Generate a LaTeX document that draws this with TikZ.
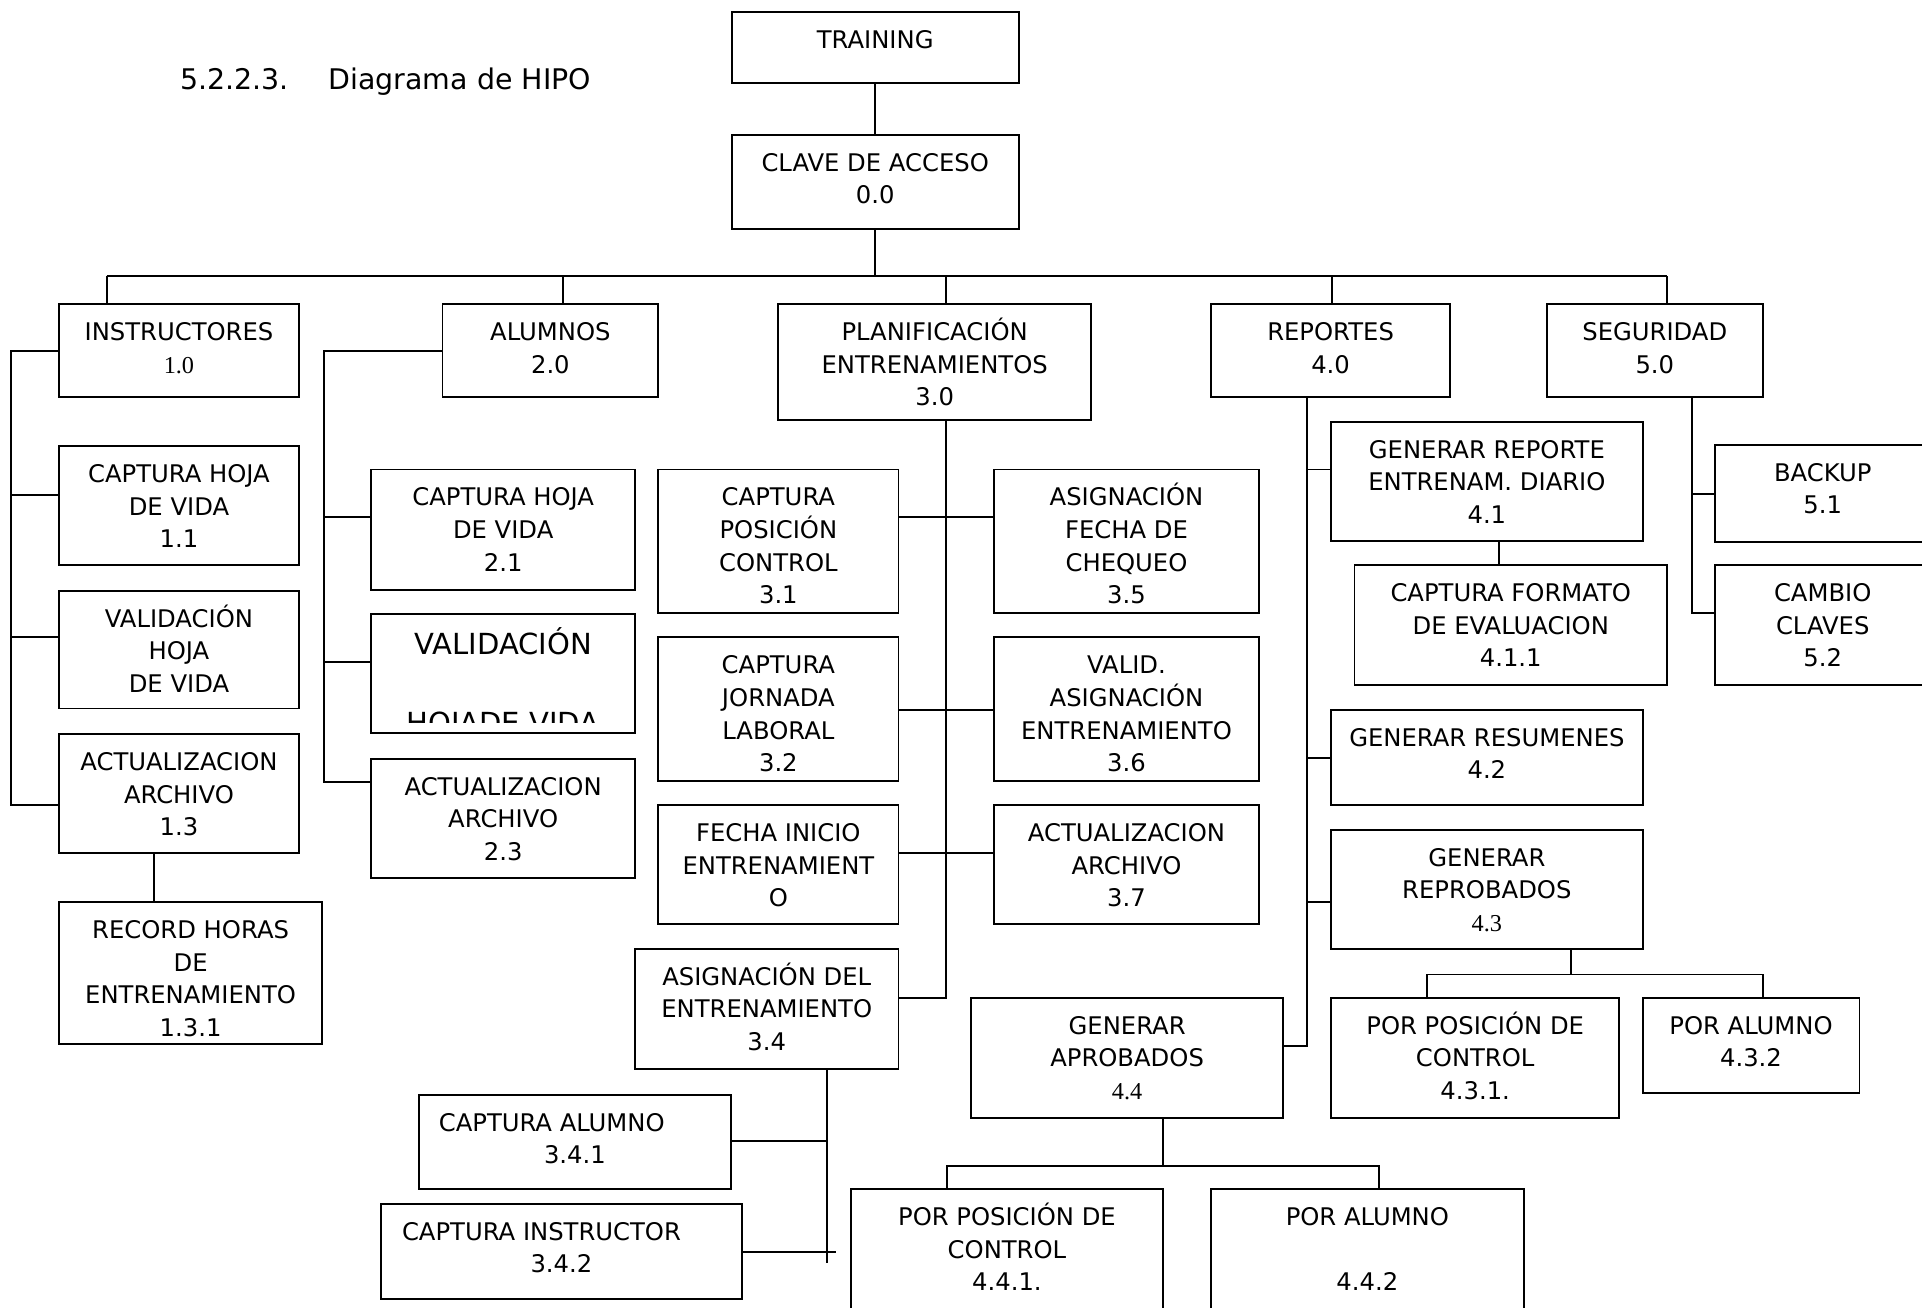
\documentclass[tikz,border=0pt]{standalone}
\usepackage{fontspec}
\setmainfont{DejaVu Sans}
\newfontfamily\numserif{Liberation Serif}

\newcommand\boxfont{\fontsize{9.9pt}{13.3pt}\selectfont}

\tikzset{
  hipo/.style={draw, rectangle, inner sep=0pt, outer sep=0pt},
  txt/.style={inner sep=0pt, outer sep=0pt, align=center},
  boxtext/.style={txt, font=\boxfont}
}

% \hipobox{name}{x1}{y1}{x2}{y2}{text}: a box given by its corners,
% its text hanging from the top edge (the rule fixes the first line's height)
\newcommand\hipobox[6]{%
  \node[hipo, minimum width={(#4-#2)*0.5pt}, minimum height={(#5-#3)*0.5pt}]
    (#1) at ({(#2+#4)/2},{(#3+#5)/2}) {};
  \node[boxtext, anchor=north] (#1-t) at ({(#2+#4)/2},{#3+9.7}) {\rule{0pt}{10pt}#6};}

\begin{document}
\begin{tikzpicture}[x=0.5pt, y=-0.5pt, line width=0.8pt]
\useasboundingbox (0,0) rectangle (1568,1067);
\clip (0,0) rectangle (1568,1067);

% heading
\node[txt, anchor=base west, font=\fontsize{11.6pt}{14pt}\selectfont] (title)
  at (147,73.4) {\makebox[60.5pt][l]{5.2.2.3.}Diagrama de HIPO};

% top of the hierarchy
\hipobox{training}{597}{10}{831}{68}{TRAINING}
\hipobox{clave}{597}{110}{831}{187}{CLAVE DE ACCESO\\0.0}

% first level
\hipobox{ins}{48}{248}{244}{324}{INSTRUCTORES\\{\numserif 1.0}}
\hipobox{alu}{361}{248}{537}{324}{ALUMNOS\\2.0}
\hipobox{pla}{635}{248}{890}{343}{PLANIFICACIÓN\\ENTRENAMIENTOS\\3.0}
\hipobox{rep}{988}{248}{1183}{324}{REPORTES\\4.0}
\hipobox{seg}{1262}{248}{1438}{324}{SEGURIDAD\\5.0}

% instructores
\hipobox{i11}{48}{364}{244}{461}{CAPTURA HOJA\\DE VIDA\\1.1}
\hipobox{ival}{48}{482}{244}{578}{VALIDACIÓN\\HOJA\\DE VIDA}
\hipobox{i13}{48}{599}{244}{696}{ACTUALIZACION\\ARCHIVO\\1.3}
\hipobox{i131}{48}{736}{263}{852}{RECORD HORAS\\DE\\ENTRENAMIENTO\\1.3.1}

% alumnos
\hipobox{a21}{303}{383}{518}{481}{CAPTURA HOJA\\DE VIDA\\2.1}
\node[hipo, minimum width=107.5pt, minimum height=48.5pt] (aval) at (410.5,549.5) {};
\begin{scope}
  \clip (303,501) rectangle (518,589.6);
  \node[txt, anchor=base, font=\fontsize{11.85pt}{14pt}\selectfont] (avalA) at (410.5,534) {VALIDACIÓN};
  \node[txt, anchor=base, font=\fontsize{11.85pt}{14pt}\selectfont] (avalB) at (410.5,598) {HOJADE VIDA};
\end{scope}
\hipobox{a23}{303}{619}{518}{716}{ACTUALIZACION\\ARCHIVO\\2.3}

% planificacion
\hipobox{p31}{537}{383}{733}{500}{CAPTURA\\POSICIÓN\\CONTROL\\3.1}
\hipobox{p32}{537}{520}{733}{637}{CAPTURA\\JORNADA\\LABORAL\\3.2}
\hipobox{pfi}{537}{657}{733}{754}{FECHA INICIO\\ENTRENAMIENT\\O}
\hipobox{p34}{518}{774}{733}{872}{ASIGNACIÓN DEL\\ENTRENAMIENTO\\3.4}
\hipobox{p35}{811}{383}{1027}{500}{ASIGNACIÓN\\FECHA DE\\CHEQUEO\\3.5}
\hipobox{p36}{811}{520}{1027}{637}{VALID.\\ASIGNACIÓN\\ENTRENAMIENTO\\3.6}
\hipobox{p37}{811}{657}{1027}{754}{ACTUALIZACION\\ARCHIVO\\3.7}
\hipobox{p341}{342}{893}{596}{970}{\makebox[111pt][l]{CAPTURA ALUMNO}\\3.4.1}
\hipobox{p342}{311}{982}{605}{1060}{\makebox[130pt][l]{CAPTURA INSTRUCTOR}\\3.4.2}

% reportes
\hipobox{r41}{1086}{344}{1340}{441}{GENERAR REPORTE\\ENTRENAM. DIARIO\\4.1}
\hipobox{r411}{1105}{461}{1360}{559}{CAPTURA FORMATO\\DE EVALUACION\\4.1.1}
\hipobox{r42}{1086}{579}{1340}{657}{GENERAR RESUMENES\\4.2}
\hipobox{r43}{1086}{677}{1340}{774}{GENERAR\\REPROBADOS\\{\numserif 4.3}}
\hipobox{r431}{1086}{814}{1321}{912}{POR POSICIÓN DE\\CONTROL\\4.3.1.}
\hipobox{r432}{1340}{814}{1517}{892}{POR ALUMNO\\4.3.2}
\hipobox{r44}{792}{814}{1047}{912}{GENERAR\\APROBADOS\\{\numserif 4.4}}
\hipobox{r441}{694}{970}{949}{1070}{POR POSICIÓN DE\\CONTROL\\4.4.1.}
\hipobox{r442}{988}{970}{1243}{1070}{POR ALUMNO\\ \\4.4.2}

% seguridad
\hipobox{s51}{1399}{363}{1575}{442}{BACKUP\\5.1}
\hipobox{s52}{1399}{461}{1575}{559}{CAMBIO\\CLAVES\\5.2}

% ---- connectors ----
\draw (training.south) -- (clave.north);
\coordinate (busL) at (87,225.5);
\coordinate (busR) at (1360,225.5);
\coordinate (dAlu) at (459,225.5);
\coordinate (dPla) at (772,225.5);
\coordinate (dRep) at (1087,225.5);
\draw (clave.south) -- (clave.south |- busL);
\draw (busL) -- (busR);
\draw (busL) -- (busL |- ins.north);
\draw (dAlu) -- (dAlu |- alu.north);
\draw (dPla) -- (dPla |- pla.north);
\draw (dRep) -- (dRep |- rep.north);
\draw (busR) -- (busR |- seg.north);

% instructores spine
\coordinate (sIns) at (9,286);
\draw (ins.west) -- (sIns) -- (sIns |- 0,657) -- (i13.west |- 0,657);
\draw (sIns |- 0,404) -- (i11.west |- 0,404);
\draw (sIns |- 0,520) -- (ival.west |- 0,520);
\coordinate (c13) at (126,716);
\draw (i13.south -| c13) -- (i131.north -| c13);

% alumnos spine
\coordinate (sAlu) at (264,286);
\draw (alu.west) -- (sAlu) -- (sAlu |- 0,638) -- (a23.west |- 0,638);
\draw (sAlu |- 0,422) -- (a21.west |- 0,422);
\draw (sAlu |- 0,540) -- (aval.west |- 0,540);

% planificacion spine
\coordinate (sPla) at (772,814);
\draw (pla.south -| sPla) -- (sPla) -- (p34.east |- sPla);
\draw (p31.east |- 0,422) -- (p35.west |- 0,422);
\draw (p32.east |- 0,579) -- (p36.west |- 0,579);
\draw (pfi.east |- 0,696) -- (p37.west |- 0,696);

% asignacion del entrenamiento
\coordinate (s34) at (675,1030);
\coordinate (t342) at (682,1021);
\draw (p34.south -| s34) -- (s34);
\draw (p341.east |- 0,931) -- (s34 |- 0,931);
\draw (p342.east |- t342) -- (t342);

% reportes spine
\coordinate (sRep) at (1066,853);
\draw (rep.south -| sRep) -- (sRep) -- (r44.east |- sRep);
\draw (sRep |- 0,383) -- (r41.west |- 0,383);
\draw (sRep |- 0,618) -- (r42.west |- 0,618);
\draw (sRep |- 0,736) -- (r43.west |- 0,736);
\coordinate (c41) at (1223,450);
\draw (r41.south -| c41) -- (r411.north -| c41);

% reprobados children
\coordinate (j43) at (1282,795);
\coordinate (h43L) at (1164,795);
\coordinate (h43R) at (1438,795);
\draw (r43.south -| j43) -- (j43);
\draw (r431.north -| h43L) -- (h43L) -- (h43R) -- (r432.north -| h43R);

% aprobados children
\coordinate (j44) at (948.8,951);
\coordinate (h44L) at (772.6,951);
\coordinate (h44R) at (1125,951);
\draw (r44.south -| j44) -- (j44);
\draw (r441.north -| h44L) -- (h44L) -- (h44R) -- (r442.north -| h44R);

% seguridad spine
\coordinate (sSeg) at (1380,500);
\draw (seg.south -| sSeg) -- (sSeg) -- (s52.west |- sSeg);
\draw (sSeg |- 0,403) -- (s51.west |- 0,403);
\end{tikzpicture}
\end{document}
